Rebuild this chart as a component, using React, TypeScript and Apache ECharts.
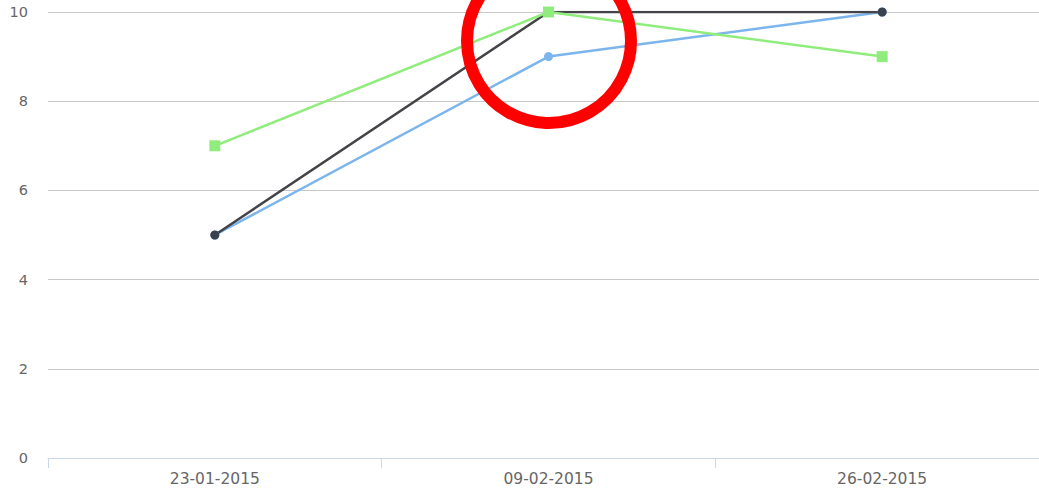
import React, { useEffect, useRef } from "react";
import * as echarts from "echarts";

const categories = ["23-01-2015", "09-02-2015", "26-02-2015"];
const seriesBlue = [5, 9, 10];
const seriesDark = [5, 10, 10];
const seriesGreen = [7, 10, 9];
const yTicks = [0, 2, 4, 6, 8, 10];

export default function App() {
  const ref = useRef<HTMLDivElement>(null);
  useEffect(() => {
    const chart = echarts.init(ref.current!, undefined, { renderer: "svg" });
    const font = "DejaVu Sans";
    chart.setOption({
      animation: false,
      grid: { left: 48, right: 0, top: 12, bottom: 33, containLabel: false },
      xAxis: {
        type: "category",
        data: categories,
        boundaryGap: true,
        axisLine: { lineStyle: { color: "#ccd6eb", width: 1 } },
        axisTick: { show: true, length: 10, lineStyle: { color: "#ccd6eb" } },
        axisLabel: { color: "#666666", fontFamily: font, fontSize: 15.5, margin: 13 },
        splitLine: { show: false },
      },
      yAxis: {
        type: "value",
        min: yTicks[0],
        max: yTicks[yTicks.length - 1],
        interval: 2,
        axisLine: { show: false },
        axisTick: { show: false },
        axisLabel: { color: "#666666", fontFamily: font, fontSize: 14.5, margin: 20 },
        splitLine: { lineStyle: { color: "#c8c8c8", width: 1 } },
      },
      series: [
        {
          type: "line",
          data: seriesBlue,
          symbol: "circle",
          symbolSize: 9,
          lineStyle: { color: "#7cb5ec", width: 2.5 },
          itemStyle: { color: "#7cb5ec" },
        },
        {
          type: "line",
          data: seriesDark,
          symbol: "circle",
          symbolSize: 9,
          lineStyle: { color: "#434348", width: 2.5 },
          itemStyle: { color: "#3a4250" },
        },
        {
          type: "line",
          data: seriesGreen,
          symbol: "rect",
          symbolSize: 11,
          lineStyle: { color: "#90ed7d", width: 2.5 },
          itemStyle: { color: "#90ed7d" },
        },
      ],
      graphic: [
        {
          type: "circle",
          shape: { cx: 549, cy: 41, r: 82 },
          style: { fill: "none", stroke: "#ff0000", lineWidth: 12 },
          z: 100,
        },
      ],
    });
    return () => chart.dispose();
  }, []);
  return (
    <div style={{ position: "fixed", left: 0, top: 0, width: 1039, height: 491, overflow: "hidden", background: "#fff" }}>
      <div ref={ref} style={{ width: 1049, height: 491 }} />
    </div>
  );
}
